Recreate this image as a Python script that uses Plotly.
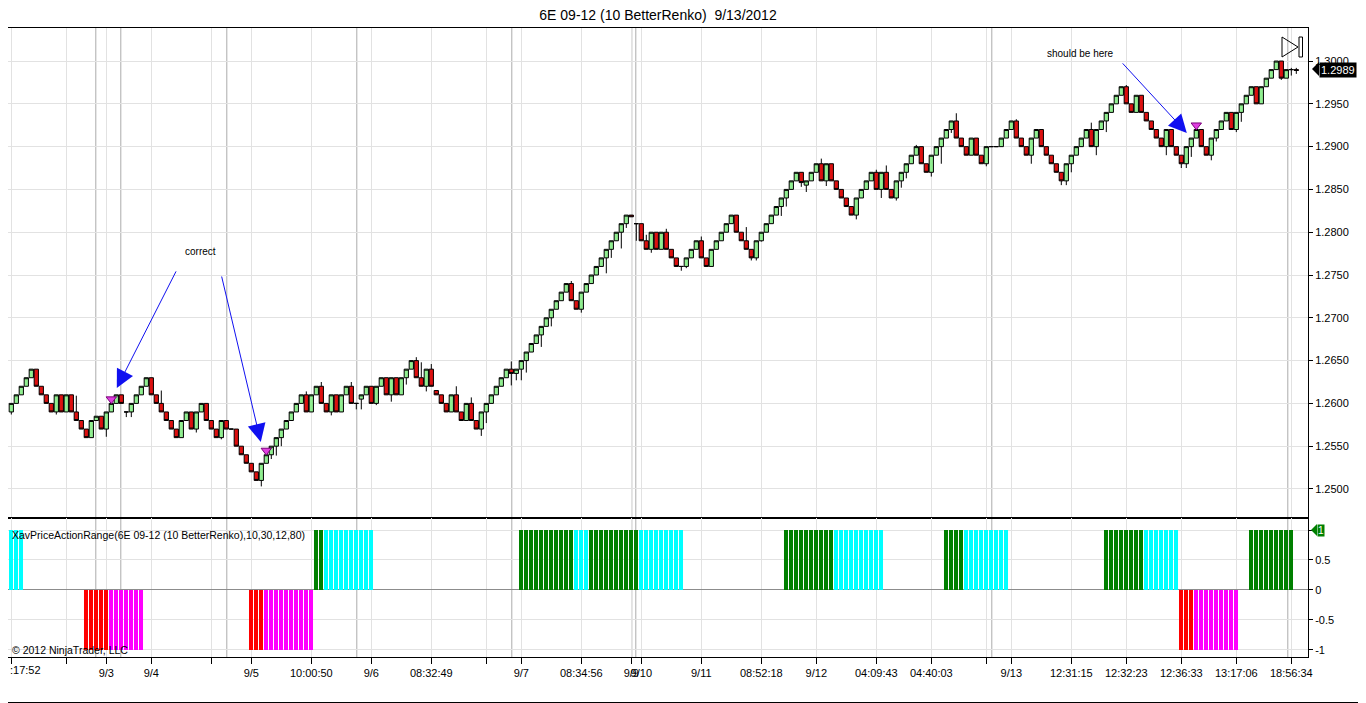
import plotly.graph_objects as go
from plotly.subplots import make_subplots

TITLE = "6E 09-12 (10 BetterRenko)  9/13/2012"
INDICATOR_LABEL = "XavPriceActionRange(6E 09-12 (10 BetterRenko),10,30,12,80)"
COPYRIGHT = "\u00a9 2012 NinjaTrader, LLC"

# Renko brick closes (one per bar)
closes = [
    1.2600, 1.2610, 1.2620, 1.2630, 1.2640, 1.2620, 1.2610, 1.2600, 1.2590, 1.2610,
    1.2590, 1.2610, 1.2590, 1.2580, 1.2570, 1.2560, 1.2580, 1.2585, 1.2570, 1.2590,
    1.2600, 1.2610, 1.2600, 1.2590, 1.2600, 1.2610, 1.2620, 1.2630, 1.2610, 1.2600,
    1.2590, 1.2580, 1.2570, 1.2560, 1.2580, 1.2590, 1.2570, 1.2590, 1.2600, 1.2580,
    1.2570, 1.2560, 1.2580, 1.2570, 1.2570, 1.2550, 1.2540, 1.2530, 1.2520, 1.2510,
    1.2530, 1.2540, 1.2550, 1.2560, 1.2570, 1.2580, 1.2590, 1.2600, 1.2610, 1.2590,
    1.2610, 1.2620, 1.2600, 1.2590, 1.2610, 1.2590, 1.2610, 1.2620, 1.2600, 1.2600,
    1.2610, 1.2620, 1.2600, 1.2620, 1.2630, 1.2610, 1.2630, 1.2610, 1.2630, 1.2640,
    1.2650, 1.2630, 1.2620, 1.2640, 1.2620, 1.2610, 1.2600, 1.2590, 1.2610, 1.2590,
    1.2580, 1.2600, 1.2580, 1.2570, 1.2590, 1.2600, 1.2610, 1.2620, 1.2630, 1.2640,
    1.2635, 1.2640, 1.2650, 1.2660, 1.2670, 1.2680, 1.2690, 1.2700, 1.2710, 1.2720,
    1.2730, 1.2740, 1.2720, 1.2710, 1.2730, 1.2740, 1.2750, 1.2760, 1.2770, 1.2780,
    1.2790, 1.2800, 1.2810, 1.2820, 1.2818, 1.2810, 1.2790, 1.2780, 1.2800, 1.2780,
    1.2800, 1.2780, 1.2770, 1.2760, 1.2760, 1.2770, 1.2780, 1.2790, 1.2770, 1.2760,
    1.2780, 1.2790, 1.2800, 1.2810, 1.2820, 1.2800, 1.2790, 1.2780, 1.2770, 1.2790,
    1.2800, 1.2810, 1.2820, 1.2830, 1.2840, 1.2850, 1.2860, 1.2870, 1.2858, 1.2860,
    1.2870, 1.2880, 1.2860, 1.2880, 1.2860, 1.2850, 1.2840, 1.2830, 1.2820, 1.2840,
    1.2850, 1.2860, 1.2870, 1.2850, 1.2870, 1.2850, 1.2840, 1.2860, 1.2870, 1.2880,
    1.2890, 1.2900, 1.2880, 1.2870, 1.2890, 1.2900, 1.2910, 1.2920, 1.2930, 1.2910,
    1.2900, 1.2890, 1.2910, 1.2890, 1.2880, 1.2900, 1.2900, 1.2900, 1.2910, 1.2920,
    1.2930, 1.2910, 1.2900, 1.2890, 1.2910, 1.2920, 1.2900, 1.2890, 1.2880, 1.2870,
    1.2860, 1.2880, 1.2890, 1.2900, 1.2910, 1.2920, 1.2900, 1.2920, 1.2930, 1.2940,
    1.2950, 1.2960, 1.2970, 1.2950, 1.2940, 1.2960, 1.2940, 1.2930, 1.2920, 1.2910,
    1.2900, 1.2920, 1.2900, 1.2890, 1.2880, 1.2900, 1.2910, 1.2920, 1.2900, 1.2890,
    1.2910, 1.2920, 1.2930, 1.2940, 1.2920, 1.2940, 1.2950, 1.2960, 1.2970, 1.2950,
    1.2970, 1.2980, 1.2990, 1.3000, 1.2980, 1.2990, 1.2990, 1.2989,
]
# BetterRenko bars open at the previous close; exceptions
first_open = 1.2590
open_overrides = {23: 1.2590, 70: 1.2605, 85: 1.2615, 125: 1.2810, 159: 1.2855}

# Wick extremes beyond the brick body
wick_low = {
    0: 1.2587, 9: 1.2587, 19: 1.2561, 23: 1.2584, 24: 1.2584, 37: 1.2566, 42: 1.2558,
    50: 1.2503, 52: 1.2535, 53: 1.2539, 54: 1.2550, 64: 1.2586, 69: 1.2593, 70: 1.2593,
    73: 1.2598, 76: 1.2602, 79: 1.2622, 83: 1.2614, 94: 1.2562, 95: 1.2577, 100: 1.2621,
    101: 1.2627, 102: 1.2627, 103: 1.2636, 106: 1.2666, 108: 1.2690, 114: 1.2706,
    119: 1.2752, 120: 1.2770, 122: 1.2781, 123: 1.2805, 125: 1.2790, 128: 1.2776,
    134: 1.2755, 135: 1.2758, 142: 1.2790, 148: 1.2767, 149: 1.2767, 150: 1.2789,
    154: 1.2819, 155: 1.2830, 158: 1.2853, 159: 1.2847, 163: 1.2854, 169: 1.2815,
    174: 1.2840, 177: 1.2837, 178: 1.2852, 179: 1.2863, 184: 1.2865, 186: 1.2880,
    188: 1.2916, 195: 1.2877, 204: 1.2880, 210: 1.2855, 211: 1.2855, 212: 1.2870,
    217: 1.2890, 219: 1.2917, 231: 1.2890, 234: 1.2875, 235: 1.2875, 236: 1.2888,
    240: 1.2884, 241: 1.2906, 245: 1.2917, 246: 1.2929, 254: 1.2978, 255: 1.2984,
    256: 1.2983, 257: 1.2985,
}
wick_high = {
    13: 1.2609, 30: 1.2615, 59: 1.2614, 62: 1.2625, 68: 1.2625, 81: 1.2654, 82: 1.2648,
    84: 1.2646, 89: 1.2620, 92: 1.2607, 100: 1.2649, 112: 1.2743, 127: 1.2797,
    131: 1.2804, 133: 1.2770, 138: 1.2795, 147: 1.2806, 162: 1.2886, 164: 1.2880,
    167: 1.2840, 173: 1.2873, 175: 1.2878, 181: 1.2902, 189: 1.2939, 201: 1.2932,
    216: 1.2928, 223: 1.2972, 256: 1.2992, 257: 1.2992,
}

# Bars where the magenta signal triangle is drawn
signal_bars = [20, 51, 237]

# X-axis tick labels (bar index -> label); the first one is clipped at the left edge
first_tick_label = ":17:52"
tick_bars = [0, 11, 19, 28, 40, 48, 60, 72, 84, 95, 102, 114, 124, 126, 138, 150,
             161, 173, 184, 195, 200, 212, 223, 234, 245, 256]
tick_labels = ["", "", "9/3", "9/4", "", "9/5", "10:00:50", "9/6", "08:32:49", "",
               "9/7", "08:34:56", "9/9", "9/10", "9/11", "08:52:18", "9/12", "04:09:43",
               "04:40:03", "", "9/13", "12:31:15", "12:32:23", "12:36:33", "13:17:06",
               "18:56:34"]
# Session separators (darker vertical lines)
session_breaks = [16.9, 21.9, 43.1, 69.1, 100.1, 124.1, 124.9, 196.1, 255.3]

price_ticks = [1.2500, 1.2550, 1.2600, 1.2650, 1.2700, 1.2750, 1.2800, 1.2850,
               1.2900, 1.2950, 1.3000]
last_price = 1.2989

# Indicator runs: (first bar, last bar, state, value)
ind_runs = [
    (0, 2, "cyan", 1), (15, 19, "red", -1), (20, 26, "magenta", -1),
    (48, 50, "red", -1), (51, 60, "magenta", -1), (61, 62, "green", 1),
    (63, 72, "cyan", 1), (102, 112, "green", 1), (113, 115, "cyan", 1),
    (116, 125, "green", 1), (126, 134, "cyan", 1), (155, 164, "green", 1),
    (165, 174, "cyan", 1), (187, 190, "green", 1), (191, 199, "cyan", 1),
    (219, 226, "green", 1), (227, 233, "cyan", 1), (234, 236, "red", -1),
    (237, 245, "magenta", -1), (248, 256, "green", 1),
]
ind_colors = {"green": "#008000", "cyan": "#00FFFF", "red": "#FF0000", "magenta": "#FF00FF"}

# ---------------------------------------------------------------- build
n = len(closes)
bars = list(range(n))
opens = [first_open] + closes[:-1]
for k, v in open_overrides.items():
    opens[k] = v
highs = [max(o, c, wick_high.get(i, 0)) for i, (o, c) in enumerate(zip(opens, closes))]
lows = [min(o, c, wick_low.get(i, 9)) for i, (o, c) in enumerate(zip(opens, closes))]

ind_x, ind_y, ind_c = [], [], []
for a, b, state, val in ind_runs:
    for i in range(a, b + 1):
        ind_x.append(i)
        ind_y.append(val)
        ind_c.append(ind_colors[state])

FONT = "Liberation Sans, Arial, sans-serif"

# The page body adds an 8px offset; the figure is sized to sit in the window.
OFF = 8
W, H = 1366 - OFF, 703 - OFF
L, R, T, B = 0, 58, 28 - OFF, 46


def px(x):
    """window pixel x -> paper x"""
    return (x - OFF - L) / (W - L - R)


def py(y):
    """window pixel y -> paper y"""
    return (H - B - (y - OFF)) / (H - T - B)


fig = make_subplots(rows=2, cols=1, shared_xaxes=True, vertical_spacing=0,
                    row_heights=[490, 139])

fig.add_trace(go.Candlestick(
    x=bars, open=opens, high=highs, low=lows, close=closes,
    increasing=dict(fillcolor="#90EE90", line=dict(color="#000000", width=1)),
    decreasing=dict(fillcolor="#DC1010", line=dict(color="#000000", width=1)),
    whiskerwidth=0, hoverinfo="skip", showlegend=False,
), row=1, col=1)

fig.add_trace(go.Scatter(
    x=signal_bars, y=[highs[i] + 0.0005 for i in signal_bars], mode="markers",
    marker=dict(symbol="triangle-down", size=9, color="#E040E0",
                line=dict(color="#7A007A", width=1)),
    hoverinfo="skip", showlegend=False,
), row=1, col=1)

fig.add_trace(go.Bar(
    x=ind_x, y=ind_y, width=0.8, marker=dict(color=ind_c, line=dict(width=0)),
    hoverinfo="skip", showlegend=False,
), row=2, col=1)

x_range = [-0.66, 259.34]
grid = "#E2E2E2"
for r in (1, 2):
    fig.update_xaxes(row=r, col=1, range=x_range, tickmode="array", tickvals=tick_bars,
                     ticktext=tick_labels, showgrid=True, gridcolor=grid, gridwidth=1,
                     showline=True, linecolor="#000000", linewidth=1, mirror=True,
                     zeroline=False, rangeslider=dict(visible=False), automargin=False,
                     ticks="outside" if r == 2 else "", ticklen=6, tickcolor="#000000",
                     showticklabels=(r == 2), tickangle=0,
                     tickfont=dict(family=FONT, size=11, color="#000000"))

fig.update_yaxes(row=1, col=1, side="right", range=[1.24661, 1.30386], tickmode="array",
                 tickvals=price_ticks, ticktext=[f"{v:.4f}" for v in price_ticks],
                 showgrid=True, gridcolor=grid, showline=True, linecolor="#000000",
                 mirror=True, ticks="outside", ticklen=4, tickcolor="#000000",
                 zeroline=False, automargin=False,
                 tickfont=dict(family=FONT, size=11, color="#000000"))
fig.update_yaxes(row=2, col=1, side="right", range=[-1.117, 1.2], tickmode="array",
                 tickvals=[1, 0.5, 0, -0.5, -1], ticktext=["", "0.5", "0", "-0.5", "-1"],
                 showgrid=True, gridcolor=grid, showline=True, linecolor="#000000",
                 mirror=True, ticks="outside", ticklen=4, tickcolor="#000000",
                 zeroline=True, zerolinecolor="#8C8C8C", zerolinewidth=1, automargin=False,
                 tickfont=dict(family=FONT, size=11, color="#000000"))

shapes = []
for xb in session_breaks:
    shapes.append(dict(type="line", xref="x", yref="paper", x0=xb, x1=xb, y0=0, y1=1,
                       line=dict(color="#ABABAB", width=1), layer="below"))

# outer frame (right and bottom edges of the window)
shapes.append(dict(type="line", xref="paper", yref="paper", x0=px(1365.5), x1=px(1365.5),
                   y0=py(702.5), y1=py(8), line=dict(color="#000000", width=1)))
shapes.append(dict(type="line", xref="paper", yref="paper", x0=px(8), x1=px(1365.5),
                   y0=py(702.5), y1=py(702.5), line=dict(color="#000000", width=1)))
# play / end icon
shapes.append(dict(type="path", xref="paper", yref="paper",
                   path=f"M {px(1282)},{py(37)} L {px(1282)},{py(57)} L {px(1298)},{py(47)} Z",
                   line=dict(color="#000000", width=1), fillcolor="rgba(0,0,0,0)"))
shapes.append(dict(type="rect", xref="paper", yref="paper", x0=px(1299), x1=px(1302.5),
                   y0=py(57), y1=py(37), line=dict(color="#000000", width=1)))
# value marker pointers
shapes.append(dict(type="path", xref="paper", yref="paper",
                   path=f"M {px(1312)},{py(69)} L {px(1319)},{py(62)} L {px(1319)},{py(76)} Z",
                   line=dict(width=0), fillcolor="#000000"))
shapes.append(dict(type="path", xref="paper", yref="paper",
                   path=f"M {px(1311)},{py(530)} L {px(1317)},{py(524)} L {px(1317)},{py(536)} Z",
                   line=dict(width=0), fillcolor="#008000"))

annotations = [
    dict(text=INDICATOR_LABEL, xref="paper", yref="paper", x=px(10), y=py(535),
         xanchor="left", yanchor="middle", showarrow=False,
         font=dict(family=FONT, size=10.5, color="#000000")),
    dict(text=COPYRIGHT, xref="paper", yref="paper", x=px(10), y=py(650),
         xanchor="left", yanchor="middle", showarrow=False,
         font=dict(family=FONT, size=10.5, color="#000000")),
    dict(text=first_tick_label, xref="paper", yref="paper", x=px(8), y=py(670),
         xanchor="left", yanchor="middle", showarrow=False,
         font=dict(family=FONT, size=11, color="#000000")),
    dict(text="correct", xref="x", yref="y", x=37.9, y=1.2777, showarrow=False,
         font=dict(family=FONT, size=10, color="#000000")),
    dict(text="should be here", xref="x", yref="y", x=213.9, y=1.3009, showarrow=False,
         font=dict(family=FONT, size=10, color="#000000")),
    dict(text=f"{last_price:.4f}", xref="paper", yref="y", x=px(1319), y=last_price,
         xanchor="left", yanchor="middle", showarrow=False, bgcolor="#000000",
         borderpad=1, font=dict(family=FONT, size=11, color="#FFFFFF")),
    dict(text="1", xref="paper", yref="y2", x=px(1317), y=1,
         xanchor="left", yanchor="middle", showarrow=False, bgcolor="#008000",
         borderpad=0, font=dict(family=FONT, size=10, color="#FFFFFF")),
]
# annotation arrows (head, tail) in data coordinates
arrows = [((21.1, 1.2618), (33.1, 1.2756)),
          ((49.9, 1.2555), (42.0, 1.2750)),
          ((235.1, 1.2916), (222.0, 1.2999))]
for (hx, hy), (tx, ty) in arrows:
    annotations.append(dict(text="", xref="x", yref="y", axref="x", ayref="y",
                            x=hx, y=hy, ax=tx, ay=ty, showarrow=True, arrowhead=2,
                            arrowsize=3.6, arrowwidth=1, arrowcolor="#1010F0", standoff=0))

fig.update_layout(
    width=W, height=H, margin=dict(l=L, r=R, t=T, b=B, autoexpand=False),
    paper_bgcolor="#FFFFFF", plot_bgcolor="#FFFFFF",
    title=dict(text=TITLE, x=0.5, xref="paper", y=1 - 7 / H, yanchor="middle",
               font=dict(family=FONT, size=14, color="#000000")),
    boxgap=0.15, boxgroupgap=0, bargap=0, showlegend=False,
    shapes=shapes, annotations=annotations,
    font=dict(family=FONT, size=11, color="#000000"),
)

fig.write_html("out.html")
